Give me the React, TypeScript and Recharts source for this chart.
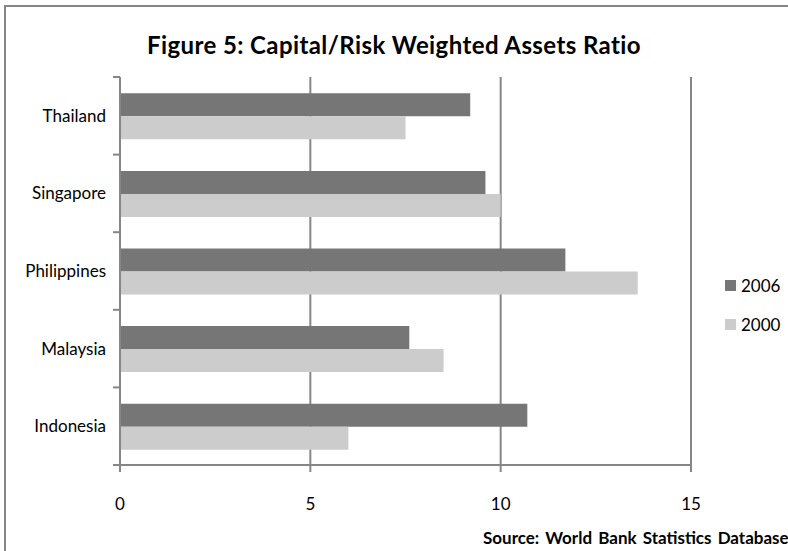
import * as React from 'react';
import { BarChart, Bar, XAxis, YAxis, CartesianGrid } from 'recharts';

// Values
const countries = ['Thailand', 'Singapore', 'Philippines', 'Malaysia', 'Indonesia'];
const ratio2006 = [9.2, 9.6, 11.7, 7.6, 10.7];
const ratio2000 = [7.5, 10.0, 13.6, 8.5, 6.0];
const xTicks = [0, 5, 10, 15];
const seriesLabels = ['2006', '2000'];

const data = countries.map((c, i) => ({ country: c, y2006: ratio2006[i], y2000: ratio2000[i] }));

const FONT = 'Lato, "Open Sans", Arial, sans-serif';
const GRID = '#868686';
const DARK = '#767676';
const LIGHT = '#cccccc';
const seriesColors = [DARK, LIGHT];

const W = 788;
const H = 551;
const MARGIN = { top: 77, right: 97, left: 0, bottom: 56 };
const X_AXIS_H = 30;
const plotH = H - MARGIN.top - MARGIN.bottom - X_AXIS_H;
const band = plotH / countries.length;

const CountryTick: React.FC<any> = ({ x, y, payload, index }) => {
    const ax = x + 8;
    return (
        <g>
            <text x={x - 6} y={y} dy="0.35em" textAnchor="end" fontSize={17} fill="#000" fontFamily={FONT}>
                {payload.value}
            </text>
            <line x1={ax - 7} x2={ax} y1={y - band / 2} y2={y - band / 2} stroke={GRID} strokeWidth={2} />
            {index === countries.length - 1 && (
                <line x1={ax - 7} x2={ax} y1={y + band / 2} y2={y + band / 2} stroke={GRID} strokeWidth={2} />
            )}
        </g>
    );
};

const LegendBox: React.FC = () => (
    <div style={{ position: 'absolute', left: 725, top: 266, fontFamily: FONT, fontSize: 17 }}>
        {seriesLabels.map((label, i) => (
            <div key={label} style={{ display: 'flex', alignItems: 'center', height: 39 }}>
                <span style={{ width: 11, height: 11, background: seriesColors[i], marginRight: 5, display: 'inline-block' }} />
                <span>{label}</span>
            </div>
        ))}
    </div>
);

const App: React.FC = () => {
    return (
        <div style={{ position: 'absolute', left: 0, top: 0, width: W, height: H, overflow: 'hidden', background: '#fff' }}>
            <div style={{ position: 'absolute', left: 4, top: 5, width: W + 20, height: H + 20, border: `2px solid ${GRID}`, boxSizing: 'border-box' }} />
            <div style={{ position: 'absolute', left: 0, width: W, top: 30, textAlign: 'center', fontFamily: FONT, fontWeight: 'bold', fontSize: 24, letterSpacing: 0.4 }}>
                Figure 5: Capital/Risk Weighted Assets Ratio
            </div>
            <div style={{ position: 'absolute', left: 483, top: 527, whiteSpace: 'nowrap', fontFamily: FONT, fontWeight: 'bold', fontSize: 17, wordSpacing: 2 }}>
                Source: World Bank Statistics Database
            </div>
            <div style={{ position: 'absolute', left: 0, top: 0 }}>
                <BarChart width={W} height={H} data={data} layout="vertical" margin={MARGIN} barCategoryGap="21%" barGap={0}>
                    <CartesianGrid horizontal={false} vertical={true} stroke={GRID} strokeWidth={2} />
                    <XAxis
                        type="number"
                        domain={[0, 15]}
                        ticks={xTicks}
                        height={X_AXIS_H}
                        stroke={GRID}
                        strokeWidth={2}
                        tickSize={7}
                        tickMargin={26}
                        tick={{ fill: '#000', fontSize: 17, fontFamily: FONT }}
                    />
                    <YAxis
                        type="category"
                        dataKey="country"
                        width={120}
                        stroke={GRID}
                        strokeWidth={2}
                        tickLine={false}
                        tick={<CountryTick />}
                    />
                    <Bar dataKey="y2006" name="2006" fill={DARK} isAnimationActive={false} />
                    <Bar dataKey="y2000" name="2000" fill={LIGHT} isAnimationActive={false} />
                </BarChart>
            </div>
            <LegendBox />
        </div>
    );
};

export default App;
